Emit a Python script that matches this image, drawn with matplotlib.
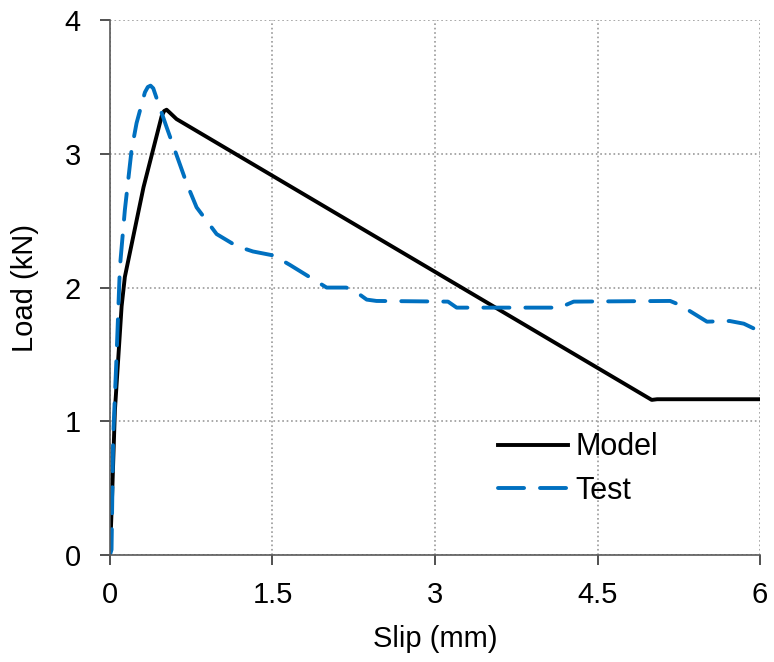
import matplotlib
matplotlib.use("Agg")
import matplotlib.pyplot as plt

# model curve (slip mm, load kN)
model_x = [0, 0.016, 0.046, 0.108, 0.138, 0.31, 0.477, 0.50, 0.523, 0.55, 0.615, 5.0, 5.05, 6.0]
model_y = [0, 0.34, 1.08, 1.86, 2.08, 2.75, 3.28, 3.32, 3.33, 3.31, 3.26, 1.16, 1.165, 1.165]

# test curve
test_x = [0, 0.015, 0.03, 0.06, 0.092, 0.138, 0.2, 0.246, 0.323, 0.35, 0.375, 0.40, 0.446, 0.523,
          0.708, 0.8, 0.985, 1.17, 1.32, 1.51, 1.66, 1.88, 2.0, 2.18, 2.25, 2.37, 2.46,
          3.12, 3.2, 4.15, 4.28, 5.17, 5.26, 5.42, 5.51, 5.72, 5.85, 5.94, 6.0]
test_y = [0, 0.04, 0.88, 1.46, 2.15, 2.58, 3.03, 3.23, 3.46, 3.50, 3.51, 3.49, 3.38, 3.2,
          2.78, 2.6, 2.40, 2.31, 2.27, 2.24, 2.17, 2.06, 2.0, 2.0, 1.98, 1.91, 1.90,
          1.895, 1.85, 1.85, 1.895, 1.90, 1.87, 1.79, 1.745, 1.75, 1.73, 1.695, 1.70]

plt.rcParams["font.family"] = ["Liberation Sans", "DejaVu Sans"]

fig = plt.figure(figsize=(7.74, 6.62), dpi=100)
ax = fig.add_axes([0.142, 0.1616, 0.840, 0.808])

ax.plot(model_x, model_y, color="black", lw=2.8, label="Model", solid_joinstyle="round")
ax.plot(test_x, test_y, color="#0070C0", lw=2.8, dashes=(6.7, 4.1),
        dash_capstyle="round", dash_joinstyle="round", label="Test")

ax.set_xlim(0, 6)
ax.set_ylim(0, 4)
ax.set_xticks([0, 1.5, 3, 4.5, 6])
ax.set_xticklabels(["0", "1.5", "3", "4.5", "6"])
ax.set_yticks([0, 1, 2, 3, 4])
ax.grid(True, linestyle=":", color="#999999", lw=1.2)
ax.spines["top"].set_visible(False)
ax.spines["right"].set_visible(False)
for s in ["left", "bottom"]:
    ax.spines[s].set_color("#595959")
    ax.spines[s].set_linewidth(1.2)
ax.tick_params(labelsize=21, direction="out", length=7, width=1.2, color="#333333")
ax.tick_params(axis="x", pad=12)
ax.tick_params(axis="y", pad=14)
ax.set_xlabel("Slip (mm)", fontsize=21, labelpad=11)
ax.set_ylabel("Load (kN)", fontsize=21, labelpad=18)

ax.legend(loc="lower left", bbox_to_anchor=(0.554, 0.04), frameon=False, fontsize=22,
          handlelength=2.3, handletextpad=0.25, labelspacing=0.45)

fig.savefig("out.png", dpi=100)
